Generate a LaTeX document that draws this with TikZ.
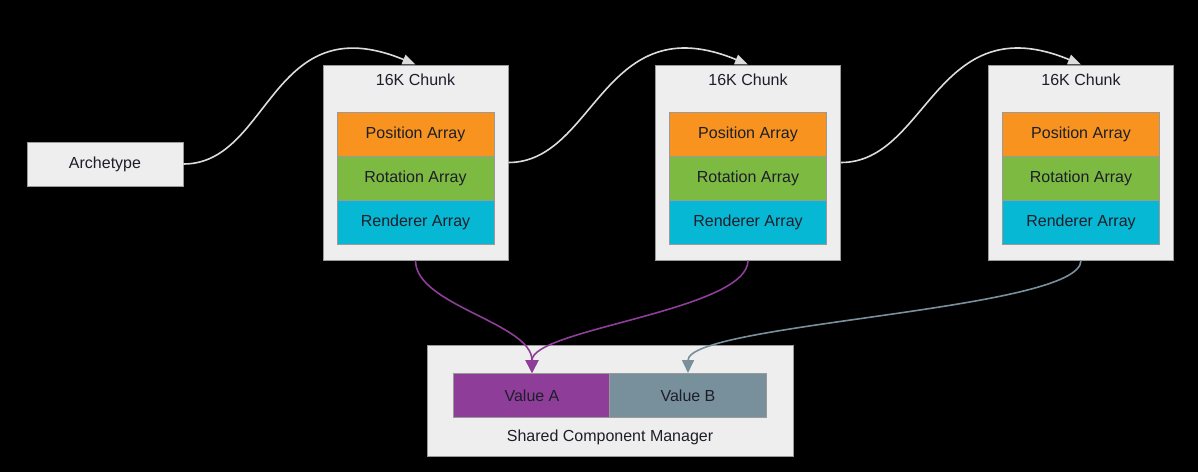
\documentclass[tikz,border=0pt]{standalone}
\usepackage{fontspec}
\setmainfont{Liberation Sans}
\usetikzlibrary{arrows.meta}
\definecolor{boxfill}{HTML}{EEEEEE}
\definecolor{boxline}{HTML}{9A9A9A}
\definecolor{posc}{HTML}{F7931E}
\definecolor{rotc}{HTML}{7CBA42}
\definecolor{renc}{HTML}{06B8D3}
\definecolor{vac}{HTML}{8E3E98}
\definecolor{vbc}{HTML}{78909C}
\definecolor{linkc}{HTML}{DCDCDC}
\definecolor{txt}{HTML}{1E1E2A}
\tikzset{
  x=1pt, y=-1pt,
  boxbase/.style={draw=boxline, line width=1pt, inner sep=0pt, font=\fontsize{16}{18}\selectfont, text=txt},
  outer/.style={boxbase, fill=boxfill},
  arr/.style={boxbase, minimum width=157pt, minimum height=44pt},
  title/.style={font=\fontsize{16}{18}\selectfont, text=txt, inner sep=0pt},
  link/.style={draw=linkc, line width=1.6pt, -{Triangle[length=13pt,width=10pt]}},
  plink/.style={draw=vac, line width=1.6pt, -{Triangle[length=13pt,width=13pt]}},
  glink/.style={draw=vbc, line width=1.6pt, -{Triangle[length=13pt,width=12pt]}},
}
\begin{document}
\begin{tikzpicture}
\useasboundingbox (0,0) rectangle (1198,472);
\fill[black] (0,0) rectangle (1198,472);

\node[outer, minimum width=156pt, minimum height=44pt] (arch) at (105,164) {Archetype};

\foreach \i/\cx in {1/415.5, 2/748, 3/1081}{
  \node[outer, minimum width=185pt, minimum height=195pt] (c\i) at (\cx,162.5) {};
  \node[title] (t\i) at (\cx,80) {16K Chunk};
  \node[arr, fill=posc] (p\i) at (\cx,134.5) {Position Array};
  \node[arr, fill=rotc] (r\i) at (\cx,178.5) {Rotation Array};
  \node[arr, fill=renc] (n\i) at (\cx,222.5) {Renderer Array};
}

\node[outer, minimum width=366pt, minimum height=111pt] (scm) at (610,400.5) {};
\node[arr, fill=vac] (va) at (532,395.5) {Value A};
\node[arr, fill=vbc] (vb) at (688,395.5) {Value B};
\node[title] (scml) at (610,437) {Shared Component Manager};

\draw[link] (arch.east) .. controls +(87,0) and +(-145,-60) .. (c1.north);
\draw[link] (c1.east) .. controls +(87,0) and +(-145,-60) .. (c2.north);
\draw[link] (c2.east) .. controls +(87,0) and +(-145,-60) .. (c3.north);

\draw[plink] (c1.south) .. controls +(0,45) and +(0,-50) .. (va.north);
\draw[plink] (c2.south) .. controls +(0,50) and +(0,-44) .. (va.north);
\draw[glink] (c3.south) .. controls +(0,50) and +(0,-50) .. (vb.north);
\end{tikzpicture}
\end{document}
